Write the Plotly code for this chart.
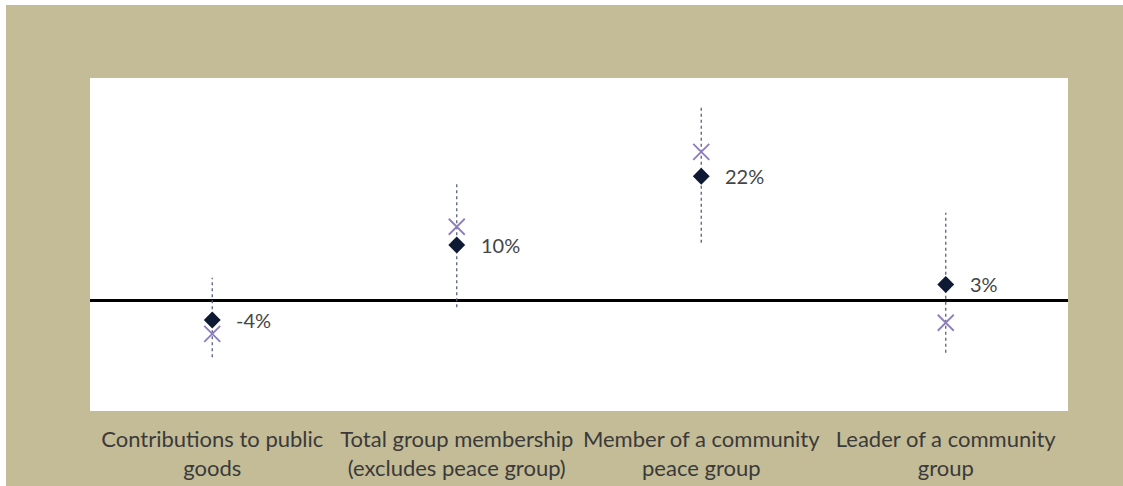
import plotly.graph_objects as go

categories = [
    "Contributions to public<br>goods",
    "Total group membership<br>(excludes peace group)",
    "Member of a community<br>peace group",
    "Leader of a community<br>group",
]
estimate = [-3.6, 9.9, 22.3, 2.8]
estimate_labels = ["-4%", "10%", "22%", "3%"]
alt_estimate = [-6.1, 13.2, 26.7, -4.1]
ci_low = [-10.3, -1.3, 10.3, -9.5]
ci_high = [4.0, 21.1, 35.1, 15.7]

TAN = "#C4BC97"

# dotted confidence interval lines
ci_x, ci_y = [], []
for c, lo, hi in zip(categories, ci_low, ci_high):
    ci_x += [c, c, None]
    ci_y += [lo, hi, None]

fig = go.Figure()
fig.add_trace(go.Scatter(
    x=ci_x, y=ci_y, mode="lines",
    line=dict(color="#56607C", width=1.3, dash="dot"),
    hoverinfo="skip", showlegend=False,
))
fig.add_trace(go.Scatter(
    x=categories, y=alt_estimate, mode="markers",
    marker=dict(symbol="x-thin", size=16, line=dict(color="#8C7DBE", width=1.8)),
    showlegend=False,
))
fig.add_trace(go.Scatter(
    x=categories, y=estimate, mode="markers",
    marker=dict(symbol="diamond", size=13, color="#0E1A33"),
    showlegend=False,
))

for c, v, t in zip(categories, estimate, estimate_labels):
    fig.add_annotation(
        x=c, y=v, text=t, showarrow=False, xanchor="left", yanchor="middle",
        xshift=22, font=dict(family="Lato", size=20, color="#454545"),
    )

W, H = 1123, 486
ml, mr, mt, mb = 90, 55, 78, 75
pw, ph = W - ml - mr, H - mt - mb
# thin white strips on the outer left and top edges
fig.add_shape(type="rect", xref="paper", yref="paper",
              x0=-ml / pw, x1=(6 - ml) / pw, y0=-mb / ph, y1=1 + mt / ph,
              fillcolor="white", line=dict(width=0), layer="below")
fig.add_shape(type="rect", xref="paper", yref="paper",
              x0=-ml / pw, x1=1 + mr / pw, y0=1 + (mt - 5) / ph, y1=1 + mt / ph,
              fillcolor="white", line=dict(width=0), layer="below")

fig.update_layout(
    width=W, height=H,
    margin=dict(l=ml, r=mr, t=mt, b=mb, autoexpand=False),
    paper_bgcolor=TAN, plot_bgcolor="white",
    xaxis=dict(
        type="category", range=[-0.5, 3.5], showgrid=False, showline=False,
        ticks="", tickfont=dict(family="Lato", size=22, color="#3A3A3A"),
        ticklabelstandoff=13, fixedrange=True, automargin=False,
    ),
    yaxis=dict(
        range=[-20, 40], showgrid=False, showticklabels=False, ticks="",
        zeroline=True, zerolinecolor="black", zerolinewidth=3, showline=False,
        fixedrange=True, automargin=False,
    ),
)

fig.write_html("out.html")
